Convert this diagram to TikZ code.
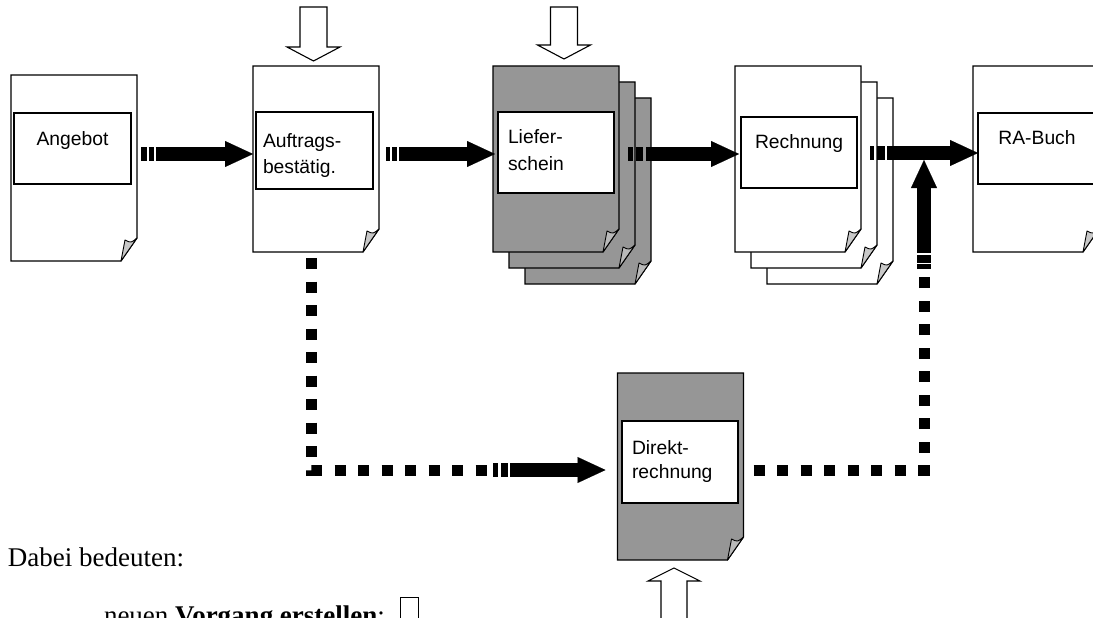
\documentclass[tikz,border=0pt]{standalone}
\usepackage{fontspec}
\setmainfont{Liberation Serif}
\newfontfamily\docfont{Liberation Sans}
\usetikzlibrary{arrows.meta}
\definecolor{docgray}{RGB}{150,150,150}
\definecolor{foldlight}{RGB}{200,200,200}
\definecolor{foldgray}{RGB}{185,185,185}
\newcommand\paperdoc[3]{%
  \filldraw[fill=#2,line width=1.2pt,line join=miter] (#1.north west) -- (#1.north east) -- ([yshift=23pt]#1.south east) -- ([xshift=-16pt]#1.south east) -- (#1.south west) -- cycle;
  \filldraw[fill=#3,line width=0.9pt,line join=round] ([xshift=-16pt]#1.south east) -- ([xshift=-12pt,yshift=21pt]#1.south east) .. controls ([xshift=-6pt,yshift=18pt]#1.south east) .. ([yshift=23pt]#1.south east) -- cycle;
}
\begin{document}
\begin{tikzpicture}[x=1pt,y=-1pt,
  docbox/.style={minimum width=126pt,minimum height=186pt,inner sep=0pt,outer sep=0pt},
  innerbox/.style={draw,fill=white,line width=1.2pt,inner sep=0pt,outer sep=0pt},
  doclabel/.style={font={\docfont\fontsize{19.3}{23}\selectfont},inner sep=0pt,outer sep=0pt},
  flow/.style={line width=13.5pt,-{Triangle[length=28pt,width=26pt,line width=0.1pt]}},
  sqdots/.style={line width=11pt,dash pattern=on 11pt off 12.5pt,line join=miter},
  hollow/.style={draw,fill=white,line width=1.1pt,line join=miter},
  legendtext/.style={font={\fontsize{27}{32}\selectfont},inner sep=0pt,outer sep=0pt,anchor=base west}]
\useasboundingbox (0,0) rectangle (1093,618);

% document outlines
\node[docbox] (angebotdoc) at (74,168) {};
\node[docbox] (auftragdoc) at (316,159) {};
\node[docbox] (liefer3) at (588,191) {};
\node[docbox] (liefer2) at (572,175) {};
\node[docbox] (lieferdoc) at (556,159) {};
\node[docbox] (rechnung3) at (830,191) {};
\node[docbox] (rechnung2) at (814,175) {};
\node[docbox] (rechnungdoc) at (798,159) {};
\node[docbox] (rabuchdoc) at (1036,159) {};
\node[docbox,minimum height=187pt] (direktdoc) at (680.5,466.5) {};

\paperdoc{angebotdoc}{white}{foldlight}
\paperdoc{auftragdoc}{white}{foldlight}
\paperdoc{liefer3}{docgray}{foldgray}
\paperdoc{liefer2}{docgray}{foldgray}
\paperdoc{lieferdoc}{docgray}{foldgray}
\paperdoc{rechnung3}{white}{foldlight}
\paperdoc{rechnung2}{white}{foldlight}
\paperdoc{rechnungdoc}{white}{foldlight}
\paperdoc{rabuchdoc}{white}{foldlight}
\paperdoc{direktdoc}{docgray}{foldgray}

% inner boxes
\node[innerbox,minimum width=117pt,minimum height=71pt] (angebot) at (72.5,148.5) {};
\node[innerbox,minimum width=117pt,minimum height=77pt] (auftrag) at (314.5,150.5) {};
\node[innerbox,minimum width=116pt,minimum height=81pt] (liefer) at (556,152.5) {};
\node[innerbox,minimum width=116pt,minimum height=71pt] (rechnung) at (799,152.5) {};
\node[innerbox,minimum width=117pt,minimum height=71pt] (rabuch) at (1036.5,148.5) {};
\node[innerbox,minimum width=116pt,minimum height=82pt] (direkt) at (680,462) {};

% labels
\node[doclabel,anchor=base] (angebottext) at (72.5,145) {Angebot};
\node[doclabel,anchor=base west] (auftragtext1) at (263,147) {Auftrags-};
\node[doclabel,anchor=base west] (auftragtext2) at (263,173) {bestätig.};
\node[doclabel,anchor=base west] (liefertext1) at (508,143) {Liefer-};
\node[doclabel,anchor=base west] (liefertext2) at (508,170) {schein};
\node[doclabel,anchor=base] (rechnungtext) at (799,148) {Rechnung};
\node[doclabel,anchor=base] (rabuchtext) at (1037,144) {RA-Buch};
\node[doclabel,anchor=base west] (direkttext1) at (632,454) {Direkt-};
\node[doclabel,anchor=base west] (direkttext2) at (632,478) {rechnung};

% hollow arrows (new document)
\draw[hollow] (300,7) -- (327,7) -- (327,47) -- (340,47) -- (313.5,61) -- (287,47) -- (300,47) -- cycle;
\draw[hollow] (550.5,7) -- (577.5,7) -- (577.5,45) -- (590.5,45) -- (564,59) -- (537.5,45) -- (550.5,45) -- cycle;
\draw[hollow] (661,640) -- (661,581) -- (648,581) -- (674,568) -- (700,581) -- (687,581) -- (687,640) -- cycle;

% flow arrows
\coordinate (a1s) at (141,154);
\draw[flow,dash pattern=on 6pt off 1.5pt on 5pt off 2pt on 500pt off 0pt] (a1s) -- (a1s -| auftragdoc.west);
\coordinate (a2s) at (386,154);
\draw[flow,dash pattern=on 4pt off 2pt on 5pt off 2pt on 500pt off 0pt] (a2s) -- ([xshift=2pt]a2s -| lieferdoc.west);
\coordinate (a3s) at (628,154);
\draw[flow,dash pattern=on 5pt off 3pt on 7pt off 3pt on 500pt off 0pt] (a3s) -- ([xshift=-2pt]a3s -| rechnung.west);
\coordinate (a4s) at (870,153);
\draw[flow,dash pattern=on 4pt off 3pt on 8pt off 2pt on 500pt off 0pt] (a4s) -- (a4s -| rabuch.west);

% dotted connectors
\coordinate (d6s) at ([xshift=-4.5pt,yshift=-6pt]auftragdoc.south);
\coordinate (d6e) at (487,470);
\draw[sqdots] (d6s) |- (d6e);
\coordinate (a6s) at (493,470);
\draw[flow,dash pattern=on 5pt off 3pt on 7pt off 2pt on 500pt off 0pt] (a6s) -- ([xshift=-12pt]a6s -| direktdoc.west);

\coordinate (d7s) at ([xshift=10pt]direktdoc.east |- a6s);
\coordinate (a5s) at (924,269);
\coordinate (merge) at (924,160);
\draw[sqdots] (d7s) -| (a5s);
\draw[flow,dash pattern=on 5pt off 1pt on 8pt off 2pt on 500pt off 0pt] (a5s) -- (merge);

% legend
\node[legendtext] (legend1) at (8,566) {Dabei bedeuten:};
\node[legendtext] (legend2) at (104,624) {neuen \textbf{Vorgang erstellen}:};
\node[draw,line width=1pt,minimum width=18pt,minimum height=40pt,inner sep=0pt,anchor=north west] (legendbox) at (400,597) {};
\end{tikzpicture}
\end{document}
